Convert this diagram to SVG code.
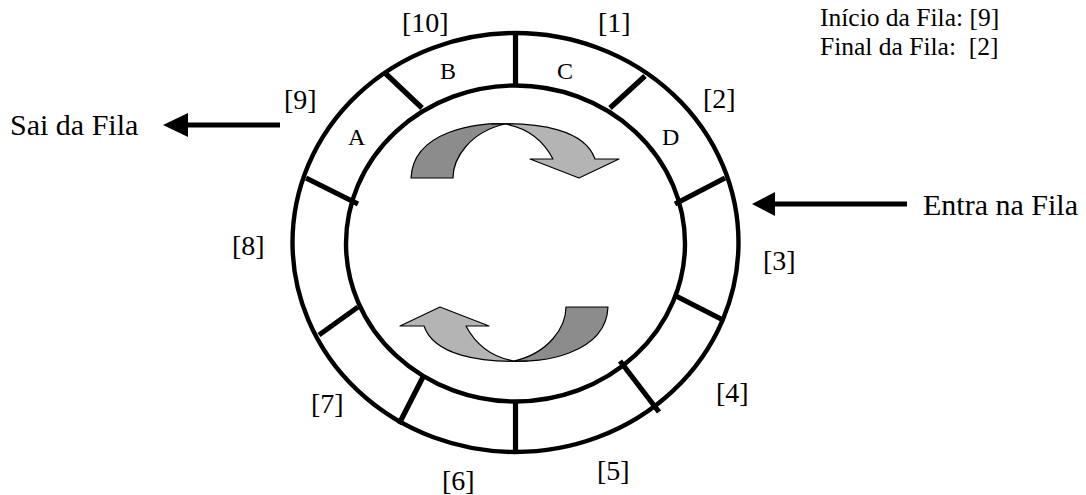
<svg xmlns="http://www.w3.org/2000/svg" width="1086" height="495" viewBox="0 0 1086 495">
  <style>
    .lbl { font-family: "Liberation Serif", "Times New Roman", serif; fill: #000; }
    .idx { font-size: 28px; }
    .cell { font-size: 24px; }
    .big { font-size: 30px; }
    .info { font-size: 25.5px; }
    .ring { fill: none; stroke: #000; stroke-width: 4.4; }
    .div { stroke: #000; stroke-width: 5.2; stroke-linecap: butt; }
    .flow { stroke: #000; stroke-width: 5; fill: none; }
    .back { fill: #8c8c8c; stroke: #000; stroke-width: 1.2; stroke-linejoin: round; }
    .front { fill: #b4b4b4; stroke: #000; stroke-width: 1.2; stroke-linejoin: round; }
  </style>
  <defs>
    <!-- U-turn rotation arrow: darker back half, lighter front half with head -->
    <g id="turn">
      <path class="back" d="M411,178 L453,178 C453,158 470,132 505,124 C480,122 413,130 411,178 Z"/>
      <path class="front" d="M492,124 C540,122 585,130 595,159 L619,159 L579,178 L530,159 L553,159 C543,140 528,128 505,124 Z"/>
    </g>
  </defs>

  <rect width="1086" height="495" fill="#fff"/>

  <!-- circular buffer ring -->
  <g id="ring">
    <ellipse class="ring" cx="515.5" cy="242.5" rx="223" ry="209.5"/>
    <ellipse class="ring" cx="515.5" cy="243.5" rx="169.5" ry="158"/>
    <line class="div" x1="515.5" y1="33" x2="515.5" y2="86"/>
    <line class="div" x1="385" y1="73" x2="422" y2="108"/>
    <line class="div" x1="645" y1="76" x2="610" y2="108"/>
    <line class="div" x1="306" y1="178" x2="358" y2="204"/>
    <line class="div" x1="725" y1="178" x2="675" y2="204"/>
    <line class="div" x1="319" y1="335" x2="358" y2="307"/>
    <line class="div" x1="723" y1="320" x2="676" y2="296"/>
    <line class="div" x1="399" y1="424" x2="423" y2="377"/>
    <line class="div" x1="659" y1="412" x2="620" y2="361"/>
    <line class="div" x1="515.5" y1="401" x2="515.5" y2="452"/>
  </g>

  <!-- slot contents -->
  <g id="cells" class="lbl cell">
    <text x="440" y="79">B</text>
    <text x="557" y="79">C</text>
    <text x="348" y="145">A</text>
    <text x="662" y="145">D</text>
  </g>

  <!-- slot indices -->
  <g id="indices" class="lbl idx">
    <text x="402" y="32">[10]</text>
    <text x="598" y="32">[1]</text>
    <text x="703" y="108">[2]</text>
    <text x="763" y="270">[3]</text>
    <text x="716" y="402">[4]</text>
    <text x="597" y="480">[5]</text>
    <text x="442" y="490">[6]</text>
    <text x="311" y="413">[7]</text>
    <text x="232" y="255">[8]</text>
    <text x="284" y="109">[9]</text>
  </g>

  <!-- rotation arrows -->
  <g id="rotation">
    <use href="#turn"/>
    <use href="#turn" transform="rotate(180 509.5 242.5)"/>
  </g>

  <!-- enqueue / dequeue arrows -->
  <g id="connectors">
    <line class="flow" x1="280" y1="125" x2="185" y2="125"/>
    <polygon points="163,125 188,113 188,137" fill="#000"/>
    <line class="flow" x1="907" y1="204" x2="772" y2="204"/>
    <polygon points="752,204 775,192 775,216" fill="#000"/>
  </g>

  <g id="out-label" class="lbl big"><text x="10" y="135">Sai da Fila</text></g>
  <g id="in-label" class="lbl big"><text x="923" y="215">Entra na Fila</text></g>

  <g id="status" class="lbl info">
    <text x="820" y="26">Início da Fila: [9]</text>
    <text x="820" y="55" xml:space="preserve">Final da Fila:  [2]</text>
  </g>
</svg>
